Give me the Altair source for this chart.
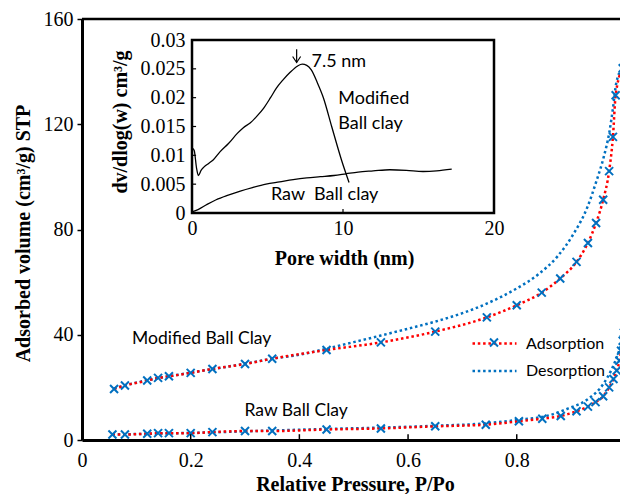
import altair as alt
import pandas as pd

# ---------------- main isotherm data (P/Po, cm3/g) ----------------
mod_ads_p = [0.059, 0.079, 0.12, 0.14, 0.16, 0.20, 0.24, 0.30, 0.35, 0.45, 0.55, 0.65,
             0.745, 0.80, 0.846, 0.88, 0.91, 0.931, 0.946, 0.959, 0.97, 0.977, 0.982, 0.995]
mod_ads_v = [19.4, 20.7, 22.6, 23.6, 24.2, 25.5, 27.0, 28.9, 30.9, 34.2, 37.1, 41.2,
             46.6, 51.2, 56.0, 61.4, 67.7, 74.9, 82.5, 91.3, 102.2, 115.2, 131.0, 141.3]
mod_des_p = [0.059, 0.10, 0.20, 0.30, 0.35, 0.40, 0.45, 0.50, 0.55, 0.60, 0.65, 0.70,
             0.75, 0.80, 0.84, 0.875, 0.905, 0.93, 0.946, 0.96, 0.97, 0.977, 0.983, 0.995]
mod_des_v = [19.6, 21.8, 25.6, 29.0, 30.9, 32.4, 34.7, 37.2, 39.7, 42.3, 45.0, 48.2,
             52.3, 57.6, 63.0, 69.8, 78.5, 88.5, 98.0, 107.5, 116.5, 126.0, 135.5, 141.5]
raw_ads_p = [0.056, 0.079, 0.12, 0.14, 0.16, 0.20, 0.24, 0.30, 0.35, 0.45, 0.55, 0.65,
             0.743, 0.804, 0.847, 0.881, 0.91, 0.931, 0.945, 0.959, 0.97, 0.978, 0.984,
             0.989, 0.992, 0.995, 0.997]
raw_ads_v = [2.1, 2.1, 2.4, 2.6, 2.6, 2.6, 3.0, 3.4, 3.4, 4.0, 4.4, 5.2,
             5.8, 7.1, 8.1, 9.1, 10.9, 12.7, 14.4, 16.6, 20.0, 23.2, 26.4,
             30.1, 33.9, 37.7, 40.8]
raw_des_p = [0.056, 0.20, 0.35, 0.45, 0.55, 0.65, 0.74, 0.80, 0.86, 0.895, 0.93, 0.96,
             0.975, 0.985, 0.993, 0.997]
raw_des_v = [2.1, 2.7, 3.6, 4.2, 4.7, 5.4, 6.3, 7.6, 9.4, 12.0, 15.4, 21.5,
             27.0, 32.0, 37.0, 40.8]

# ---------------- inset pore size distribution ----------------
mod_psd_w = [0.05, 0.15, 0.3, 0.42, 0.6, 0.8, 1.1, 1.4, 1.85, 2.4, 3.0, 3.4, 3.85, 4.3,
             4.75, 5.2, 5.6, 6.0, 6.5, 7.0, 7.3, 7.6, 7.9, 8.3, 8.7, 9.25, 9.9, 10.4]
mod_psd_d = [0.0112, 0.0108, 0.0078, 0.0065, 0.0074, 0.0080, 0.0086, 0.0092, 0.0106,
             0.0120, 0.0138, 0.0148, 0.0156, 0.0168, 0.0182, 0.0200, 0.0217, 0.0230,
             0.0244, 0.0255, 0.0258, 0.0256, 0.0248, 0.0226, 0.0200, 0.0150, 0.0092, 0.0053]
raw_psd_w = [0.0, 0.4, 1.0, 1.6, 2.4, 3.2, 4.0, 4.9, 5.8, 6.7, 7.6, 8.5, 9.4, 10.2, 11.0,
             12.0, 13.1, 14.2, 15.3, 16.2, 17.2]
raw_psd_d = [0.0002, 0.0006, 0.0015, 0.0023, 0.0031, 0.0038, 0.0044, 0.0050, 0.0054,
             0.0058, 0.0061, 0.0063, 0.0065, 0.0068, 0.0071, 0.0073, 0.0075, 0.0074,
             0.0072, 0.0073, 0.0076]

main_x_ticks = [0, 0.2, 0.4, 0.6, 0.8]
main_y_ticks = [0, 40, 80, 120, 160]
inset_x_ticks = [0, 10, 20]
inset_y_ticks = [0, 0.005, 0.01, 0.015, 0.02, 0.025, 0.03]

main_labels = ["Modified Ball Clay", "Raw Ball Clay"]
main_label_p = [0.092, 0.299]
main_label_v = [38.3, 11.2]

inset_labels = ["7.5 nm", "Modified", "Ball clay", "Raw\u00a0 Ball clay"]
inset_label_w = [7.92, 9.69, 9.69, 5.23]
inset_label_d = [0.0262, 0.0197, 0.0154, 0.0031]

peak_w = [6.93]
arrow_top = [0.0284]
arrow_tip = [0.0261]

SERIF = "Liberation Serif"
SANS = "Lato"
RED = "#FF0000"
BLUE = "#0070C0"
XPATH = "M-1,-1L1,1M-1,1L1,-1"
VPATH = "M-1,-1.5L0,0L1,-1.5"
DASH = [2.5, 2.8]

W, H = 538, 421


def frame(p, v, sample, series):
    return pd.DataFrame({"P": p, "V": v, "sample": sample, "series": series, "mk": "x"})


ads = pd.concat([frame(mod_ads_p, mod_ads_v, "Modified", "Adsorption"),
                 frame(raw_ads_p, raw_ads_v, "Raw", "Adsorption")])
des = pd.concat([frame(mod_des_p, mod_des_v, "Modified", "Desorption"),
                 frame(raw_des_p, raw_des_v, "Raw", "Desorption")])

x_main = alt.X("P:Q", scale=alt.Scale(domain=[0, 0.99], nice=False, zero=False),
               axis=alt.Axis(values=main_x_ticks, format="~g", grid=False, ticks=False,
                             domainWidth=3, domainColor="black", labelFont=SERIF,
                             labelFontSize=20, labelColor="black", labelPadding=10,
                             labelFlush=False,
                             title="Relative Pressure, P/Po", titleFont=SERIF,
                             titleFontSize=20, titleFontWeight="bold", titleColor="black",
                             titleX=273, titleY=50, titleBaseline="alphabetic",
                             titleAlign="center"))
y_main = alt.Y("V:Q", scale=alt.Scale(domain=[0, 160], nice=False),
               axis=alt.Axis(values=main_y_ticks, format="d", grid=False, tickSize=5,
                             tickWidth=1.5, tickColor="black", domainWidth=3,
                             domainColor="black", labelFont=SERIF, labelFontSize=20,
                             labelColor="black", labelPadding=4, labelFlush=False,
                             title="Adsorbed volume (cm³/g) STP", titleFont=SERIF,
                             titleFontSize=20, titleFontWeight="bold", titleColor="black",
                             titleAngle=270, titleX=-59, titleY=214,
                             titleBaseline="middle", titleAlign="center"))


def line_legend(y):
    return alt.Legend(title=None, orient="none", legendX=389, legendY=y,
                      symbolType="stroke", symbolSize=1936, symbolStrokeWidth=2.5,
                      symbolDash=DASH, labelFont=SANS, labelFontSize=16,
                      labelColor="black", labelOffset=8, padding=0)


des_line = alt.Chart(des).mark_line(interpolate="monotone", strokeWidth=2.5,
                                    strokeDash=DASH).encode(
    x=x_main, y=y_main,
    color=alt.Color("series:N", scale=alt.Scale(domain=["Desorption"], range=[BLUE]),
                    legend=line_legend(328.5)),
    detail="sample:N")
ads_line = alt.Chart(ads).mark_line(interpolate="monotone", strokeWidth=2.5,
                                    strokeDash=DASH).encode(
    x=x_main, y=y_main,
    stroke=alt.Stroke("series:N", scale=alt.Scale(domain=["Adsorption"], range=[RED]),
                      legend=line_legend(301)),
    detail="sample:N")
markers = alt.Chart(ads).mark_point(filled=False, size=64, strokeWidth=2,
                                    color=BLUE, opacity=1).encode(
    x=x_main, y=y_main,
    shape=alt.Shape("mk:N", scale=alt.Scale(domain=["x"], range=[XPATH]),
                    legend=alt.Legend(title=None, orient="none", legendX=407, legendY=318.5,
                                      symbolSize=64, symbolStrokeWidth=2,
                                      symbolStrokeColor=BLUE, symbolFillColor="transparent",
                                      labelExpr="''", labelFontSize=8, padding=0)))

top_border = alt.Chart(pd.DataFrame({"P": [0], "P2": [1], "V": [160]})).mark_rule(
    color="black", strokeWidth=2.5).encode(x=x_main, x2="P2:Q", y=y_main)
x_tick_df = pd.DataFrame({"P": main_x_ticks[1:], "V": [0] * 4, "V2": [2.2] * 4})
main_xticks = alt.Chart(x_tick_df).mark_rule(color="black", strokeWidth=1.5).encode(
    x=x_main, y=y_main, y2="V2:Q")
main_text = alt.Chart(pd.DataFrame({"P": main_label_p, "V": main_label_v,
                                    "t": main_labels})).mark_text(
    align="left", baseline="middle", font=SANS, fontSize=17.5, color="black").encode(
    x=x_main, y=y_main, text="t:N")

main_layer = alt.layer(des_line, ads_line, markers, top_border, main_xticks, main_text)

# ---------------- inset ----------------
x_in = alt.X("w:Q", scale=alt.Scale(domain=[0, 20], range=[110, 412], nice=False, zero=False),
             axis=alt.Axis(orient="bottom", offset=-227, values=inset_x_ticks, grid=False,
                           domain=False, ticks=False, labelFont=SERIF, labelFontSize=20,
                           labelColor="black", labelPadding=5, labelFlush=False,
                           title="Pore width (nm)", titleFont=SERIF, titleFontSize=20,
                           titleFontWeight="bold", titleColor="black", titleX=262, titleY=45,
                           titleBaseline="middle", titleAlign="center"))
y_in = alt.Y("d:Q", scale=alt.Scale(domain=[0, 0.03], range=[194, 21], nice=False, zero=False),
             axis=alt.Axis(orient="left", offset=-110, values=inset_y_ticks, format="~g",
                           grid=False, domain=False, ticks=False, labelFont=SERIF,
                           labelFontSize=20, labelColor="black", labelPadding=7,
                           labelFlush=False, title="dv/dlog(w) cm³/g", titleFont=SERIF,
                           titleFontSize=20, titleFontWeight="bold", titleColor="black",
                           titleAngle=270, titleX=-72, titleY=102.5,
                           titleBaseline="middle", titleAlign="center"))

inset_box = alt.Chart(pd.DataFrame({"w": [0], "w2": [20], "d": [0], "d2": [0.03]})).mark_rect(
    fill="white", stroke="black", strokeWidth=2.5).encode(x=x_in, x2="w2:Q", y=y_in, y2="d2:Q")

psd = pd.concat([pd.DataFrame({"w": mod_psd_w, "d": mod_psd_d, "s": "Modified"}),
                 pd.DataFrame({"w": raw_psd_w, "d": raw_psd_d, "s": "Raw"})])
psd_lines = alt.Chart(psd).mark_line(interpolate="monotone", color="black",
                                     strokeWidth=1.3).encode(x=x_in, y=y_in, detail="s:N")

in_yt = pd.DataFrame({"w": [0] * 5, "w2": [0.27] * 5, "d": inset_y_ticks[1:6]})
in_yticks = alt.Chart(in_yt).mark_rule(color="black", strokeWidth=1.2).encode(
    x=x_in, x2="w2:Q", y=y_in)
in_xt = pd.DataFrame({"w": [10], "d": [0], "d2": [0.0007]})
in_xticks = alt.Chart(in_xt).mark_rule(color="black", strokeWidth=1.2).encode(
    x=x_in, y=y_in, y2="d2:Q")

in_text = alt.Chart(pd.DataFrame({"w": inset_label_w, "d": inset_label_d,
                                  "t": inset_labels})).mark_text(
    align="left", baseline="middle", font=SANS, fontSize=18, color="black").encode(
    x=x_in, y=y_in, text="t:N")

arrow_df = pd.DataFrame({"w": peak_w, "d": arrow_tip, "d2": arrow_top})
arrow_shaft = alt.Chart(arrow_df).mark_rule(color="black", strokeWidth=1.2).encode(
    x=x_in, y=y_in, y2="d2:Q")
arrow_head = alt.Chart(arrow_df).mark_point(shape=VPATH, size=64, filled=False,
                                            color="black", strokeWidth=1.2, opacity=1).encode(
    x=x_in, y=y_in)

inset_layer = alt.layer(inset_box, psd_lines, in_yticks, in_xticks, in_text,
                        arrow_shaft, arrow_head)

chart = alt.layer(main_layer, inset_layer).resolve_scale(
    x="independent", y="independent"
).properties(
    width=W, height=H,
    autosize=alt.AutoSizeParams(type="none"),
    padding={"left": 74, "top": 11, "right": 0, "bottom": 54},
    background="white",
).configure_view(stroke=None).configure_axis(labelFont=SERIF, titleFont=SERIF)

chart.save("out.html", embed_options={"renderer": "svg", "actions": False})
